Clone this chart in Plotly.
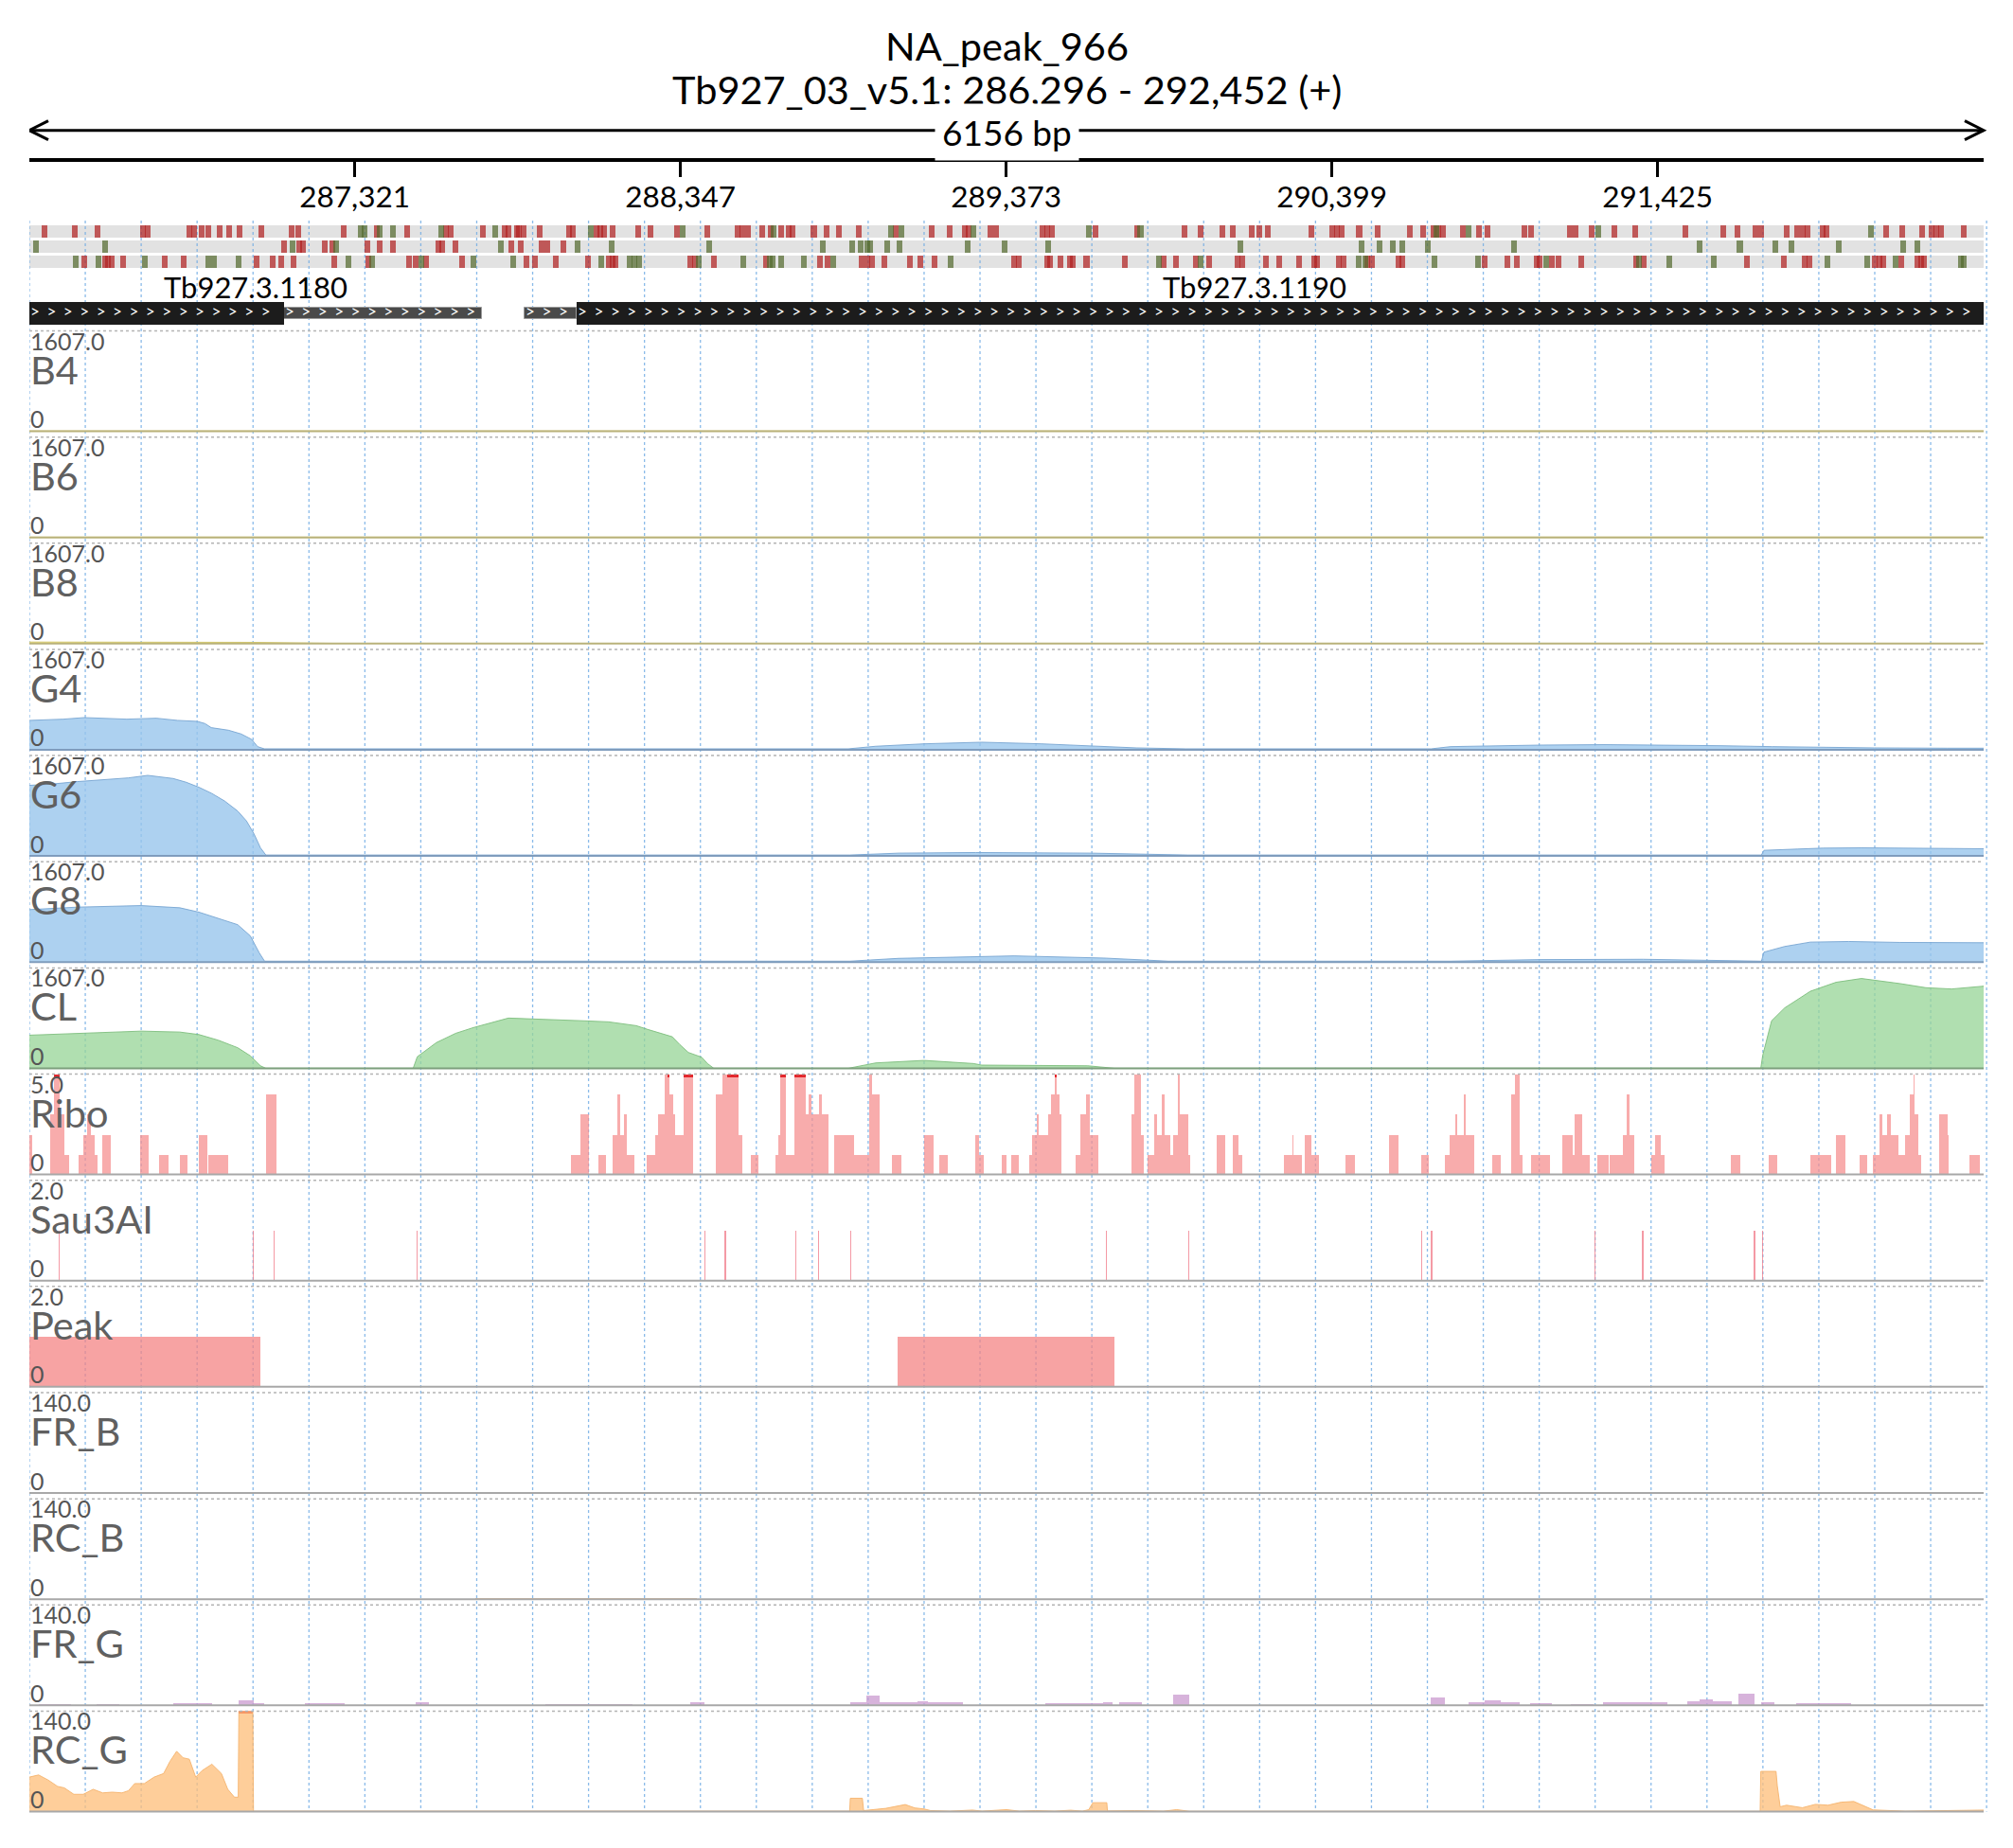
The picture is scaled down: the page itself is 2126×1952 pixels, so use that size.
import plotly.graph_objects as go

# ======================= DATA =======================
PEAK_NAME = "NA_peak_966"
CHROM = "Tb927_03_v5.1"
STRAND = "+"
REGION_START = 286296
REGION_END = 292452
RULER_TICKS = [287321, 288347, 289373, 290399, 291425]

GENE_NAMES = ["Tb927.3.1180", "Tb927.3.1190"]
GENE_SPANS = [(286296, 287722), (287856, 292452)]
CDS_BLOCKS = [(286296, 287098), (288020, 292452)]
UTR_BLOCKS = [(287098, 287722), (287856, 288020)]

# variant ticks, three rows (red / green)
ROW1_RED = [286343, 286440, 286510, 286655, 286670, 286801, 286814, 286839, 286860, 286896, 286925, 286958,
            287028, 287121, 287144, 287285, 287391, 287486, 287609, 287624, 287725, 287793, 287806, 287832,
            287839, 287852, 287903, 287996, 288009, 288083, 288095, 288106, 288134, 288215, 288252, 288335,
            288432, 288526, 288543, 288560, 288605, 288631, 288665, 288687, 288700, 288767, 288807, 288847,
            288910, 289025, 289138, 289195, 289244, 289256, 289323, 289341, 289487, 289501, 289516, 289654,
            289786, 289936, 289986, 290055, 290088, 290146, 290170, 290197, 290334, 290399, 290415, 290430,
            290485, 290543, 290644, 290686, 290719, 290734, 290749, 290812, 290862, 290889, 291006, 291027,
            291149, 291167, 291216, 291290, 291354, 291513, 291633, 291677, 291733, 291752, 291833, 291865,
            291882, 291896, 291944, 291958, 292145, 292196, 292259, 292288, 292304, 292319, 292390]
ROW1_GREEN = [287341, 287351, 287399, 287441, 287593, 287764, 288065, 288353, 288641, 289009, 289043, 289270,
              289634, 289796, 290728, 290830, 291237, 292097]
ROW2_RED = [287098, 287147, 287159, 287227, 287250, 287362, 287400, 287442, 287585, 287596, 287637, 287814,
            287845, 287910, 287927, 287979]
ROW2_GREEN = [286318, 286536, 287125, 287262, 287781, 288022, 288130, 288438, 288795, 288888, 288915, 288936,
              288944, 288998, 289038, 289251, 289368, 289505, 290111, 290493, 290548, 290591, 290620, 290701,
              290974, 291558, 291684, 291795, 291846, 291995, 292199, 292242]
ROW3_RED = [286470, 286534, 286544, 286556, 286592, 286722, 286781, 287012, 287063, 287089, 287128, 287257,
            287363, 287492, 287514, 287545, 287659, 287863, 287890, 287954, 288056, 288120, 288132, 288143,
            288379, 288392, 288452, 288617, 288787, 288809, 288918, 288936, 288951, 288988, 289071, 289102,
            289147, 289397, 289413, 289501, 289511, 289545, 289573, 289583, 289626, 289746, 289869, 289908,
            289971, 290012, 290102, 290117, 290192, 290234, 290295, 290344, 290351, 290421, 290436, 290510,
            290525, 290608, 290622, 290880, 290951, 290981, 291043, 291053, 291092, 291113, 291185, 291357,
            291381, 291707, 291824, 291888, 291904, 292110, 292125, 292135, 292192, 292242, 292256, 292264]
ROW3_GREEN = [286442, 286515, 286659, 286860, 286879, 286956, 287300, 287376, 287532, 287695, 287819, 288098,
              288187, 288202, 288216, 288404, 288544, 288628, 288637, 288665, 288736, 288828, 289197, 289853,
              289986, 290484, 290504, 290723, 290859, 291073, 291367, 291463, 291603, 291960, 292084, 292174,
              292380, 292389]
SNP_WIDTH_BP = 18

TRACK_NAMES = ["B4", "B6", "B8", "G4", "G6", "G8", "CL", "Ribo", "Sau3AI", "Peak", "FR_B", "RC_B", "FR_G", "RC_G"]
TRACK_MAX = [1607.0, 1607.0, 1607.0, 1607.0, 1607.0, 1607.0, 1607.0, 5.0, 2.0, 2.0, 140.0, 140.0, 140.0, 140.0]

B4_POS = [286296, 292452]
B4_VAL = [4, 4]
B6_POS = [286296, 292452]
B6_VAL = [5, 5]
B8_POS = [286296, 286700, 287000, 287240, 287300, 292452]
B8_VAL = [25, 25, 20, 5, 3, 3]

G4_POS = [286296, 286403, 286469, 286603, 286696, 286763, 286825, 286849, 286869, 286923, 286963, 286996,
          287015, 287036, 288876, 288962, 289114, 289296, 289484, 289645, 289783, 289938, 290712, 290773,
          290894, 291056, 291259, 291461, 291623, 291785, 291946, 292108, 292338, 292452]
G4_VAL = [470, 490, 515, 490, 505, 470, 455, 420, 354, 313, 253, 167, 50, 15, 15, 56, 95, 121, 95, 56, 30, 15,
          15, 50, 65, 75, 82, 78, 65, 50, 35, 30, 25, 25]

G6_POS = [286296, 286365, 286446, 286527, 286608, 286669, 286709, 286749, 286790, 286830, 286871, 286911,
          286952, 286980, 287004, 287024, 287041, 288881, 289034, 289277, 289641, 289944, 291752, 291760,
          291865, 291946, 292067, 292189, 292310, 292452]
G6_VAL = [1130, 1150, 1190, 1220, 1250, 1290, 1270, 1240, 1180, 1100, 1000, 880, 720, 560, 350, 130, 15,
          15, 45, 55, 45, 15, 15, 90, 110, 125, 130, 125, 118, 115]

G8_POS = [286296, 286446, 286648, 286770, 286830, 286891, 286952, 286992, 287020, 287037, 288881, 289034,
          289398, 289681, 289884, 290773, 291056, 291380, 291703, 291752, 291760, 291825, 291906, 292027,
          292189, 292452]
G8_VAL = [840, 880, 905, 870, 800, 700, 600, 420, 150, 15, 15, 60, 100, 65, 15, 15, 40, 45, 15, 15, 160,
          250, 320, 330, 315, 310]

CL_POS = [286296, 286446, 286648, 286770, 286830, 286891, 286952, 286992, 287024, 287041, 287505, 287518,
          287578, 287639, 287695, 287805, 287883, 288053, 288121, 288208, 288244, 288321, 288345, 288372,
          288414, 288432, 288452, 288876, 288962, 289114, 289270, 289296, 289630, 289714, 291750, 291756,
          291784, 291825, 291906, 291987, 292067, 292189, 292270, 292351, 292452]
CL_VAL = [530, 560, 595, 580, 540, 450, 330, 200, 40, 0, 0, 185, 411, 560, 652, 804, 793, 758, 743, 682,
          622, 505, 379, 253, 177, 76, 0, 0, 86, 126, 76, 51, 40, 0, 0, 205, 760, 966, 1233, 1377, 1438,
          1356, 1290, 1270, 1315]

# Ribo coverage bins (start, end, value); values above 5 are clipped
RIBO_BINS = [
    (286296, 286305, 2), (286361, 286375, 3), (286375, 286390, 6), (286390, 286406, 3), (286406, 286420, 1),
    (286452, 286466, 1), (286466, 286478, 2), (286478, 286491, 3), (286491, 286503, 2), (286503, 286511, 1),
    (286527, 286553, 2), (286644, 286673, 2), (286705, 286733, 1), (286770, 286794, 1), (286830, 286857, 2),
    (286861, 286921, 1), (287043, 287073, 4), (288003, 288033, 1), (288033, 288060, 3), (288088, 288112, 1),
    (288134, 288149, 2), (288149, 288157, 4), (288157, 288169, 2), (288169, 288177, 3), (288177, 288201, 1),
    (288242, 288266, 1), (288266, 288276, 2), (288276, 288296, 3), (288296, 288307, 5), (288307, 288313, 6),
    (288313, 288323, 4), (288323, 288331, 3), (288331, 288357, 2), (288357, 288387, 6), (288458, 288478, 4),
    (288478, 288494, 5), (288494, 288529, 6), (288529, 288541, 2), (288569, 288593, 1), (288646, 288654, 1),
    (288654, 288660, 2), (288660, 288680, 6), (288680, 288707, 1), (288707, 288741, 6), (288741, 288751, 3),
    (288751, 288761, 4), (288761, 288782, 3), (288782, 288792, 4), (288792, 288812, 3), (288832, 288893, 2),
    (288893, 288943, 1), (288943, 288951, 5), (288951, 288974, 4), (289014, 289044, 1), (289115, 289145, 2),
    (289162, 289188, 1), (289277, 289287, 2), (289287, 289301, 1), (289358, 289374, 1), (289388, 289414, 1),
    (289445, 289455, 1), (289455, 289469, 2), (289469, 289475, 3), (289475, 289505, 2), (289505, 289515, 3),
    (289515, 289526, 4), (289526, 289532, 6), (289532, 289540, 4), (289540, 289548, 3), (289592, 289607, 1),
    (289607, 289625, 3), (289625, 289637, 4), (289637, 289663, 2), (289768, 289778, 3), (289778, 289798, 5),
    (289798, 289805, 2), (289819, 289839, 1), (289839, 289847, 3), (289847, 289863, 2), (289863, 289871, 4),
    (289871, 289890, 2), (289890, 289900, 1), (289900, 289914, 2), (289914, 289920, 5), (289920, 289946, 3),
    (289946, 289952, 1), (290035, 290063, 2), (290086, 290106, 2), (290106, 290116, 1), (290247, 290274, 1),
    (290274, 290278, 2), (290278, 290304, 1), (290314, 290334, 2), (290334, 290359, 1), (290442, 290472, 1),
    (290579, 290609, 2), (290680, 290704, 1), (290755, 290769, 1), (290769, 290789, 2), (290789, 290795, 3),
    (290795, 290814, 2), (290814, 290820, 4), (290820, 290846, 2), (290905, 290931, 1), (290963, 290975, 4),
    (290975, 290992, 5), (290992, 291000, 1), (291026, 291087, 1), (291125, 291157, 2), (291157, 291163, 1),
    (291163, 291188, 3), (291188, 291210, 1), (291234, 291271, 1), (291275, 291315, 1), (291315, 291329, 2),
    (291329, 291337, 4), (291337, 291352, 2), (291406, 291416, 1), (291416, 291436, 2), (291436, 291447, 1),
    (291655, 291685, 1), (291774, 291802, 1), (291907, 291972, 1), (291987, 292017, 2), (292061, 292085, 1),
    (292104, 292124, 1), (292124, 292132, 3), (292132, 292148, 2), (292148, 292160, 3), (292160, 292184, 2),
    (292184, 292205, 1), (292205, 292220, 2), (292220, 292230, 4), (292230, 292235, 5), (292235, 292245, 3),
    (292245, 292255, 1), (292312, 292338, 3), (292338, 292342, 2), (292407, 292439, 1),
]

SAU3AI_SITES = [286390, 287002, 287067, 287518, 288424, 288488, 288711, 288781, 288883, 289689, 289948,
                290682, 290713, 291228, 291378, 291730, 291756]
SAU3AI_VAL = 1.0

PEAK_START = [286296, 289030]
PEAK_END = [287024, 289714]
PEAK_VAL = [1.0, 1.0]

FR_B_BINS = [(288500, 288700, 0.4), (289300, 289500, 0.4)]
RC_B_BINS = [(287700, 288400, 0.7)]

FR_G_BINS = [
    (286325, 286426, 1), (286507, 286578, 1), (286749, 286871, 3), (286956, 287002, 6), (287002, 287037, 2),
    (287164, 287289, 2), (287514, 287554, 3.5), (287922, 288195, 1.5), (288377, 288424, 3.5),
    (288883, 288933, 3.5), (288933, 288974, 13), (288974, 289095, 3.5), (289095, 289125, 5),
    (289125, 289237, 4), (289495, 289677, 2), (289677, 289708, 3.5), (289728, 289799, 4),
    (289900, 289950, 15), (290709, 290755, 11), (290830, 290880, 4), (290880, 290931, 6.5),
    (290931, 290992, 4), (291022, 291093, 2), (291153, 291224, 1), (291254, 291457, 3.5),
    (291517, 291558, 5), (291558, 291598, 8), (291598, 291659, 5), (291679, 291730, 16),
    (291750, 291794, 4.5), (291861, 292033, 3),
]

RC_G_POS = [286296, 286325, 286355, 286385, 286406, 286436, 286466, 286497, 286527, 286557, 286588, 286608,
            286628, 286658, 286689, 286719, 286739, 286760, 286780, 286800, 286820, 286840, 286871, 286901,
            286921, 286942, 286954, 286956, 287000, 287002, 288880, 288882, 288920, 288924, 288994, 289055,
            289085, 289115, 289135, 289196, 289267, 289297, 289374, 289414, 289465, 289526, 289576, 289613,
            289633, 289646, 289690, 289692, 289778, 289869, 289910, 289950, 291748, 291750, 291798, 291802,
            291811, 291831, 291881, 291922, 291962, 292003, 292043, 292073, 292094, 292104, 292205, 292367,
            292452]
RC_G_VAL = [48, 51, 44, 35, 33, 24, 24, 31, 26, 27, 26, 29, 39, 39, 48, 53, 70, 84, 75, 73, 48, 57, 66, 53,
            31, 20, 20, 150, 150, 0.5, 0.5, 18.5, 18.5, 1.3, 4.4, 9.7, 5, 3.5, 1.3, 0.5, 2, 0.5, 2.6, 0.5,
            1.3, 0.5, 1.8, 0.5, 2.5, 12.3, 12.3, 0.8, 1.3, 0.5, 2.6, 0.3, 0.3, 56, 56, 36, 6.6, 8.8, 5.3,
            10, 8.8, 13, 14, 8, 3.5, 2.2, 0.5, 2, 2]

# ======================= LAYOUT / STYLE =======================
W, H = 2126, 1952
FONT = "Lato"
PLOT_X0, PLOT_X1 = 31, 2099          # pixel span of the genomic axis
BP_PER_PX = 1026 / 344.0
X_RANGE = [REGION_START, REGION_START + (PLOT_X1 - PLOT_X0) * BP_PER_PX]
X_DOMAIN = [PLOT_X0 / W, PLOT_X1 / W]
GRID_STEP_BP = 59.06 * BP_PER_PX
TRACK0_TOP, TRACK_PITCH, TRACK_H = 349.5, 112.15, 106.0

BLUE_FILL, BLUE_LINE = "rgba(150,196,236,0.78)", "rgba(120,165,210,0.9)"
GREEN_FILL, GREEN_LINE = "rgba(150,212,150,0.75)", "rgba(125,190,125,0.9)"
YEL_FILL, YEL_LINE = "rgba(240,222,110,0.8)", "rgba(215,200,100,0.9)"
RIBO_FILL = "rgba(245,140,140,0.72)"
PEAK_FILL = "rgba(244,128,128,0.72)"
SAU_FILL = "rgba(240,120,135,0.75)"
PURP_FILL = "rgba(200,150,205,0.72)"
ORANGE_FILL, ORANGE_LINE = "rgba(253,190,120,0.75)", "rgba(245,180,110,0.9)"
CAP_RED = "#e3262b"
BASE_COLORS = ["#b9b27a", "#b9b27a", "#b9b27a", "#7f9cbd", "#7f9cbd", "#7f9cbd", "#7d9f7d",
               "#a8a8a8", "#a8a8a8", "#a8a8a8", "#a8a8a8", "#a8a8a8", "#a8a8a8", "#a8a8a8"]


def py(px):
    return 1 - px / H


fig = go.Figure()
shapes, annotations = [], []

layout = dict(
    width=W, height=H, margin=dict(l=0, r=0, t=0, b=0),
    paper_bgcolor="white", plot_bgcolor="rgba(0,0,0,0)",
    showlegend=False, barmode="overlay", bargap=0,
    font=dict(family=FONT),
    xaxis=dict(domain=X_DOMAIN, range=X_RANGE, visible=False, anchor="y", fixedrange=True),
    # header axis in pixel units (reversed) for variant rows & gene models
    yaxis=dict(domain=[0, 1], range=[H, 0], visible=False, anchor="x", fixedrange=True),
    xaxis2=dict(domain=X_DOMAIN, range=X_RANGE, anchor="y3", side="bottom", showline=False,
                showgrid=False, zeroline=False, ticks="outside", ticklen=17, tickwidth=3,
                tickcolor="black", tickvals=RULER_TICKS, ticktext=[f"{t:,}" for t in RULER_TICKS],
                ticklabelstandoff=-6,
                tickfont=dict(size=31.5, color="black", family=FONT), fixedrange=True),
    yaxis3=dict(domain=[py(169), py(150)], range=[0, 1], visible=False, anchor="x2", fixedrange=True),
)

# ---------- title ----------
annotations.append(dict(text=PEAK_NAME, x=0.5, y=py(48), xref="paper", yref="paper", showarrow=False,
                        xanchor="center", yanchor="middle", font=dict(size=41.5, color="black", family=FONT)))
annotations.append(dict(text=f"{CHROM}: {REGION_START:,} - {REGION_END:,} ({STRAND})", x=0.5, y=py(94),
                        xref="paper", yref="paper", showarrow=False, xanchor="center", yanchor="middle",
                        font=dict(size=41.5, color="black", family=FONT)))

# ---------- span arrow ----------
ARROW_Y = 137.7
shapes.append(dict(type="line", xref="x", yref="paper", x0=REGION_START, x1=REGION_END,
                   y0=py(ARROW_Y), y1=py(ARROW_Y), line=dict(color="black", width=3), layer="above"))
dx = 20 * BP_PER_PX
shapes.append(dict(type="path", xref="x", yref="paper", layer="above", line=dict(color="black", width=3),
                   path=f"M {REGION_START + dx},{py(ARROW_Y - 10)} L {REGION_START},{py(ARROW_Y)} "
                        f"L {REGION_START + dx},{py(ARROW_Y + 10)}"))
shapes.append(dict(type="path", xref="x", yref="paper", layer="above", line=dict(color="black", width=3),
                   path=f"M {REGION_END - dx},{py(ARROW_Y - 10)} L {REGION_END},{py(ARROW_Y)} "
                        f"L {REGION_END - dx},{py(ARROW_Y + 10)}"))
annotations.append(dict(text=f"{REGION_END - REGION_START} bp", x=(REGION_START + REGION_END) / 2,
                        y=py(139), xref="x", yref="paper", showarrow=False, xanchor="center",
                        yanchor="middle", bgcolor="white", borderpad=7,
                        font=dict(size=37, color="black", family=FONT)))

# ---------- ruler ----------
shapes.append(dict(type="line", xref="x", yref="paper", x0=REGION_START, x1=REGION_END,
                   y0=py(169), y1=py(169), line=dict(color="black", width=4), layer="above"))
fig.add_trace(go.Scatter(x=[REGION_START], y=[0.5], xaxis="x2", yaxis="y3", mode="markers",
                         marker=dict(opacity=0), hoverinfo="skip"))

# ---------- variant rows ----------
SNP_ROW_TOP = [238, 254, 270]
SNP_ROW_H = 13
for top in SNP_ROW_TOP:
    shapes.append(dict(type="rect", xref="x", yref="paper", x0=REGION_START - 9, x1=REGION_END,
                       y0=py(top + SNP_ROW_H), y1=py(top), fillcolor="#e2e2e2", line=dict(width=0),
                       layer="below"))

# ---------- grid ----------
k = 0
while REGION_START + k * GRID_STEP_BP <= X_RANGE[1]:
    gx = REGION_START + k * GRID_STEP_BP
    shapes.append(dict(type="line", xref="x", yref="paper", x0=gx, x1=gx, y0=py(233), y1=py(1913.5),
                       line=dict(color="rgba(110,170,228,0.8)", width=1.3, dash="3px,3px"), layer="below"))
    k += 1

for row, (reds, greens) in enumerate([(ROW1_RED, ROW1_GREEN), (ROW2_RED, ROW2_GREEN), (ROW3_RED, ROW3_GREEN)]):
    for pos, col in [(reds, "rgba(178,34,34,0.72)"), (greens, "rgba(85,107,47,0.72)")]:
        fig.add_trace(go.Bar(x=pos, y=[SNP_ROW_H] * len(pos), base=[SNP_ROW_TOP[row]] * len(pos),
                             width=SNP_WIDTH_BP, xaxis="x", yaxis="y", marker=dict(color=col, line=dict(width=0)),
                             hoverinfo="skip"))

# ---------- genes ----------
fig.add_trace(go.Bar(x=[(a + b) / 2 for a, b in UTR_BLOCKS], width=[b - a for a, b in UTR_BLOCKS],
                     y=[12] * len(UTR_BLOCKS), base=[325] * len(UTR_BLOCKS), xaxis="x", yaxis="y",
                     marker=dict(color="#4a4a4a", line=dict(color="#9a9a9a", width=1)), hoverinfo="skip"))
fig.add_trace(go.Bar(x=[(a + b) / 2 for a, b in CDS_BLOCKS], width=[b - a for a, b in CDS_BLOCKS],
                     y=[24] * len(CDS_BLOCKS), base=[319] * len(CDS_BLOCKS), xaxis="x", yaxis="y",
                     marker=dict(color="#1c1c1c", line=dict(width=0)), hoverinfo="skip"))
chev_x = []
step = 17.4 * BP_PER_PX
for a, b in CDS_BLOCKS + UTR_BLOCKS:
    p = a + 6 * BP_PER_PX
    while p < b - 3 * BP_PER_PX:
        chev_x.append(p)
        p += step
fig.add_trace(go.Scatter(x=chev_x, y=[331] * len(chev_x), xaxis="x", yaxis="y", mode="text",
                         text=[">"] * len(chev_x), textposition="middle center",
                         textfont=dict(color="white", size=17, family=FONT), hoverinfo="skip"))
for name, (a, b) in zip(GENE_NAMES, GENE_SPANS):
    annotations.append(dict(text=name, x=(a + b) / 2, y=py(302.5), xref="x", yref="paper", showarrow=False,
                            xanchor="center", yanchor="middle", font=dict(size=31, color="black", family=FONT)))


# ---------- helpers ----------
def add_profile(ref, xs, ys, maxv, fill, line):
    fig.add_trace(go.Scatter(x=xs, y=[min(v, maxv) for v in ys], xaxis="x", yaxis=ref, mode="lines",
                             fill="tozeroy", fillcolor=fill, line=dict(color=line, width=1),
                             hoverinfo="skip"))
    cx, cw = [], []
    for j in range(len(xs) - 1):
        if ys[j] > maxv and ys[j + 1] > maxv:
            cx.append((xs[j] + xs[j + 1]) / 2)
            cw.append(xs[j + 1] - xs[j])
    if cx:
        fig.add_trace(go.Bar(x=cx, width=cw, y=[maxv * 0.025] * len(cx), base=[maxv * 0.975] * len(cx),
                             xaxis="x", yaxis=ref, marker=dict(color=CAP_RED, line=dict(width=0)),
                             hoverinfo="skip"))


def add_bins(ref, starts, ends, vals, maxv, color):
    fig.add_trace(go.Bar(x=[(a + b) / 2 for a, b in zip(starts, ends)],
                         width=[b - a for a, b in zip(starts, ends)],
                         y=[min(v, maxv) for v in vals], base=[0] * len(vals), xaxis="x", yaxis=ref,
                         marker=dict(color=color, line=dict(width=0)), hoverinfo="skip"))
    cap = [(a, b) for a, b, v in zip(starts, ends, vals) if v > maxv]
    if cap:
        fig.add_trace(go.Bar(x=[(a + b) / 2 for a, b in cap], width=[b - a for a, b in cap],
                             y=[maxv * 0.025] * len(cap), base=[maxv * 0.975] * len(cap), xaxis="x",
                             yaxis=ref, marker=dict(color=CAP_RED, line=dict(width=0)), hoverinfo="skip"))


def unpack(bins):
    return [b[0] for b in bins], [b[1] for b in bins], [b[2] for b in bins]


# ---------- tracks ----------
for i, name in enumerate(TRACK_NAMES):
    top = TRACK0_TOP + i * TRACK_PITCH
    bot = top + TRACK_H
    ref = f"y{4 + i}"
    maxv = TRACK_MAX[i]
    layout[f"yaxis{4 + i}"] = dict(domain=[py(bot), py(top)], range=[0, maxv], visible=False, anchor="x",
                                   fixedrange=True)
    if name == "B4":
        add_profile(ref, B4_POS, B4_VAL, maxv, YEL_FILL, YEL_LINE)
    elif name == "B6":
        add_profile(ref, B6_POS, B6_VAL, maxv, YEL_FILL, YEL_LINE)
    elif name == "B8":
        add_profile(ref, B8_POS, B8_VAL, maxv, YEL_FILL, YEL_LINE)
    elif name == "G4":
        add_profile(ref, G4_POS, G4_VAL, maxv, BLUE_FILL, BLUE_LINE)
    elif name == "G6":
        add_profile(ref, G6_POS, G6_VAL, maxv, BLUE_FILL, BLUE_LINE)
    elif name == "G8":
        add_profile(ref, G8_POS, G8_VAL, maxv, BLUE_FILL, BLUE_LINE)
    elif name == "CL":
        add_profile(ref, CL_POS, CL_VAL, maxv, GREEN_FILL, GREEN_LINE)
    elif name == "Ribo":
        s, e, v = unpack(RIBO_BINS)
        add_bins(ref, s, e, v, maxv, RIBO_FILL)
    elif name == "Sau3AI":
        add_bins(ref, [p - 2 for p in SAU3AI_SITES], [p + 2 for p in SAU3AI_SITES],
                 [SAU3AI_VAL] * len(SAU3AI_SITES), maxv, SAU_FILL)
    elif name == "Peak":
        add_bins(ref, PEAK_START, PEAK_END, PEAK_VAL, maxv, PEAK_FILL)
    elif name == "FR_B":
        s, e, v = unpack(FR_B_BINS)
        add_bins(ref, s, e, v, maxv, "rgba(190,170,120,0.7)")
    elif name == "RC_B":
        s, e, v = unpack(RC_B_BINS)
        add_bins(ref, s, e, v, maxv, "rgba(230,170,100,0.7)")
    elif name == "FR_G":
        s, e, v = unpack(FR_G_BINS)
        add_bins(ref, s, e, v, maxv, PURP_FILL)
    elif name == "RC_G":
        add_profile(ref, RC_G_POS, RC_G_VAL, maxv, ORANGE_FILL, ORANGE_LINE)

    # frame lines
    shapes.append(dict(type="line", xref="x", yref="paper", x0=REGION_START, x1=REGION_END,
                       y0=py(top), y1=py(top), line=dict(color="#b4b4b4", width=1.5, dash="dot"),
                       layer="above"))
    shapes.append(dict(type="line", xref="x", yref="paper", x0=REGION_START, x1=REGION_END,
                       y0=py(bot), y1=py(bot), line=dict(color=BASE_COLORS[i], width=2),
                       layer="above"))
    # labels
    annotations.append(dict(text=f"{maxv:.1f}", x=30 / W, y=py(top + 10), xref="paper", yref="paper",
                            showarrow=False, xanchor="left", yanchor="middle",
                            font=dict(size=25, color="#555555", family=FONT)))
    annotations.append(dict(text=name, x=30 / W, y=py(top + 40), xref="paper", yref="paper",
                            showarrow=False, xanchor="left", yanchor="middle",
                            font=dict(size=41.5, color="#606060", family=FONT)))
    annotations.append(dict(text="0", x=30 / W, y=py(bot - 13.5), xref="paper", yref="paper",
                            showarrow=False, xanchor="left", yanchor="middle",
                            font=dict(size=25, color="#555555", family=FONT)))

layout["shapes"] = shapes
layout["annotations"] = annotations
fig.update_layout(**layout)
fig.write_html("out.html")
